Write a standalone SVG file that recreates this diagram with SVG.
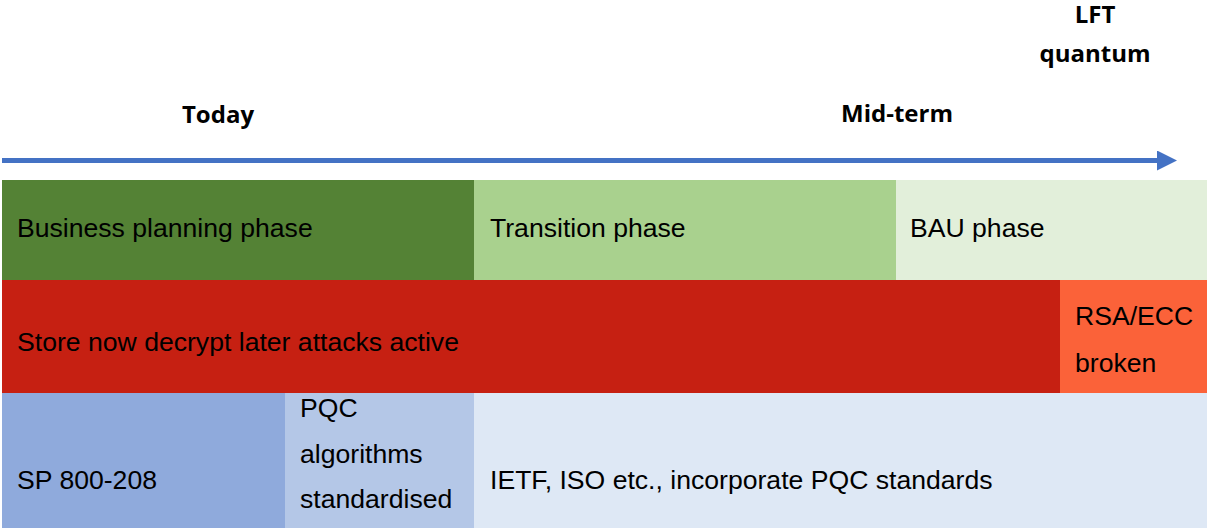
<svg xmlns="http://www.w3.org/2000/svg" width="1207" height="528" viewBox="0 0 1207 528">
  <style>
    .lbl { font-family: "Liberation Sans", Arial, sans-serif; font-size: 26.6px; fill: #000; }
    .hdr { font-family: "Open Sans", "Liberation Sans", sans-serif; font-size: 24px; font-weight: bold; fill: #000; text-anchor: middle; }
  </style>
  <defs>
    <marker id="arrowhead" markerUnits="userSpaceOnUse" markerWidth="20" markerHeight="20" refX="0" refY="10" orient="auto">
      <path d="M0,0 L20,10 L0,20 Z" fill="#4472C4"/>
    </marker>
  </defs>
  <rect width="1207" height="528" fill="#fff"/>

  <!-- time markers -->
  <g id="today"><text class="hdr" x="218" y="123">Today</text></g>
  <g id="midterm"><text class="hdr" x="897" y="122">Mid-term</text></g>
  <g id="lft">
    <text class="hdr" x="1095" y="23">LFT</text>
    <text class="hdr" x="1095" y="62">quantum</text>
  </g>

  <!-- timeline -->
  <g id="connectors">
    <line x1="2" y1="160.5" x2="1157" y2="160.5" stroke="#4472C4" stroke-width="5" marker-end="url(#arrowhead)"/>
  </g>

  <!-- phases -->
  <g id="business-planning">
    <rect x="2" y="180" width="472" height="100" fill="#548235"/>
    <text class="lbl" x="17" y="237">Business planning phase</text>
  </g>
  <g id="transition">
    <rect x="474" y="180" width="422" height="100" fill="#A9D18E"/>
    <text class="lbl" x="490" y="237">Transition phase</text>
  </g>
  <g id="bau">
    <rect x="896" y="180" width="311" height="100" fill="#E2EFDA"/>
    <text class="lbl" x="910" y="237">BAU phase</text>
  </g>

  <!-- threats -->
  <g id="sndl">
    <rect x="2" y="280" width="1058" height="113" fill="#C62012"/>
    <text class="lbl" x="17" y="351">Store now decrypt later attacks active</text>
  </g>
  <g id="rsa-ecc">
    <rect x="1060" y="280" width="147" height="113" fill="#FB6239"/>
    <text class="lbl" x="1075" y="325">RSA/ECC</text>
    <text class="lbl" x="1075" y="372">broken</text>
  </g>

  <!-- standards -->
  <g id="sp800">
    <rect x="2" y="393" width="283" height="135" fill="#8FAADC"/>
    <text class="lbl" x="17" y="489">SP 800-208</text>
  </g>
  <g id="pqc">
    <rect x="285" y="393" width="189" height="135" fill="#B4C7E7"/>
    <text class="lbl" x="300" y="417">PQC</text>
    <text class="lbl" x="300" y="463">algorithms</text>
    <text class="lbl" x="300" y="508">standardised</text>
  </g>
  <g id="ietf">
    <rect x="474" y="393" width="733" height="135" fill="#DEE8F5"/>
    <text class="lbl" x="490" y="489">IETF, ISO etc., incorporate PQC standards</text>
  </g>
</svg>
